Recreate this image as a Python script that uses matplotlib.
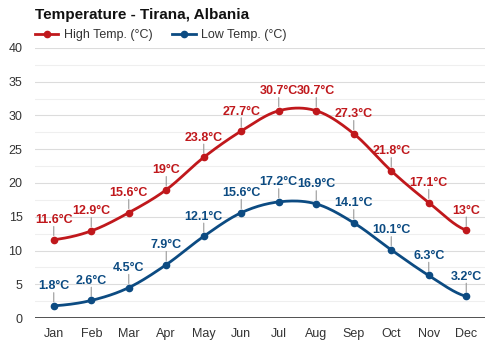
import numpy as np
import matplotlib
matplotlib.use("Agg")
import matplotlib.pyplot as plt

plt.rcParams["font.family"] = ["Liberation Sans", "DejaVu Sans"]

months = ["Jan", "Feb", "Mar", "Apr", "May", "Jun", "Jul", "Aug", "Sep", "Oct", "Nov", "Dec"]
high = [11.6, 12.9, 15.6, 19, 23.8, 27.7, 30.7, 30.7, 27.3, 21.8, 17.1, 13]
low = [1.8, 2.6, 4.5, 7.9, 12.1, 15.6, 17.2, 16.9, 14.1, 10.1, 6.3, 3.2]
yticks = [0, 5, 10, 15, 20, 25, 30, 35, 40]

RED = "#c0181c"
BLUE = "#0c4b82"


def smooth(x, y, n=20):
    x = np.asarray(x, float)
    y = np.asarray(y, float)
    xs, ys = [], []
    p = np.concatenate([[y[0]], y, [y[-1]]])
    for i in range(len(x) - 1):
        t = np.linspace(0, 1, n, endpoint=False)
        p0, p1, p2, p3 = p[i], p[i + 1], p[i + 2], p[i + 3]
        m1 = (p2 - p0) / 2
        m2 = (p3 - p1) / 2
        h00 = 2 * t**3 - 3 * t**2 + 1
        h10 = t**3 - 2 * t**2 + t
        h01 = -2 * t**3 + 3 * t**2
        h11 = t**3 - t**2
        ys.append(h00 * p1 + h10 * m1 + h01 * p2 + h11 * m2)
        xs.append(x[i] + t)
    xs.append([x[-1]])
    ys.append([y[-1]])
    return np.concatenate(xs), np.concatenate(ys)


fig = plt.figure(figsize=(5, 3.5), dpi=100)
ax = fig.add_axes([0.07, 0.0914, 0.90, 0.7715])
x = np.arange(len(months))

for v in np.arange(2.5, 40, 5):
    ax.axhline(v, color="#efefef", lw=0.8, zorder=0)
for v in yticks[1:]:
    ax.axhline(v, color="#dcdcdc", lw=0.8, zorder=0)
ax.axhline(0, color="#333333", lw=1.2, zorder=1)

for data, col, lab in [(high, RED, "High Temp. (°C)"), (low, BLUE, "Low Temp. (°C)")]:
    sx, sy = smooth(x, data)
    ax.plot(sx, sy, color=col, lw=2, zorder=3)
    ax.plot(x, data, "o", color=col, ms=4.5, zorder=4)
    ax.plot([], [], "-o", color=col, lw=2, ms=4.5, label=lab)
    for xi, v in zip(x, data):
        ax.annotate("", xy=(xi, v), xytext=(0, 9.5), textcoords="offset points",
                    xycoords="data",
                    arrowprops=dict(arrowstyle="-", color="#999999", lw=0.8,
                                    shrinkA=0, shrinkB=3), zorder=2)
        ax.annotate(f"{v:g}°C", xy=(xi, v), xytext=(0, 14), textcoords="offset points",
                    ha="center", va="center", color=col, fontsize=9,
                    fontweight="bold", zorder=5)

ax.set_xlim(-0.5, 11.5)
ax.set_ylim(0, 40)
ax.set_yticks(yticks)
ax.set_xticks(x)
ax.set_xticklabels(months)
ax.tick_params(axis="both", length=0, labelsize=9, colors="#333333")
ax.tick_params(axis="y", pad=9)
ax.tick_params(axis="x", pad=7)
for s in ax.spines.values():
    s.set_visible(False)

fig.text(0.07, 0.957, "Temperature - Tirana, Albania", fontsize=11, fontweight="bold",
         ha="left", va="center", color="#111111")
fig.legend(loc="center left", bbox_to_anchor=(0.07, 0.9), ncol=2, frameon=False,
           fontsize=9, handlelength=1.85, columnspacing=1.6, handletextpad=0.45,
           borderpad=0, borderaxespad=0, labelcolor="#333333")

fig.savefig("out.png", dpi=100, facecolor="white")
